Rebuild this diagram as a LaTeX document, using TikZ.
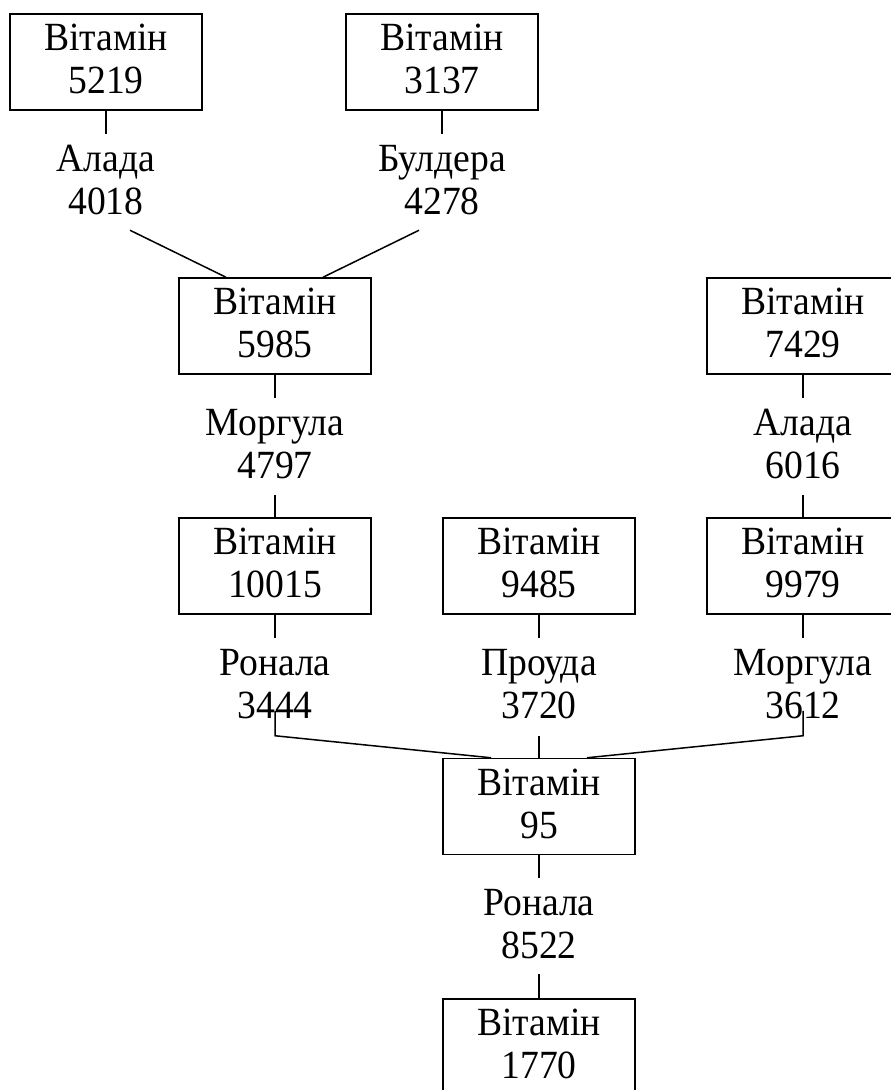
\documentclass[tikz,border=0pt]{standalone}
\usepackage{fontspec}
\setmainfont{Liberation Serif}
\newfontfamily\vfont[FakeStretch=0.94]{Liberation Serif}
\usetikzlibrary{calc}
\begin{document}
\begin{tikzpicture}[x=1pt, y=-1pt, line width=1.5pt,
  vbox/.style={draw, minimum width=192pt, minimum height=96pt, inner sep=0pt,
    text depth=6pt, align=center, font=\vfont\fontsize{40}{43}\selectfont},
  vlab/.style={minimum height=95pt, inner sep=0pt,
    text depth=5pt, align=center, font=\vfont\fontsize{40}{43}\selectfont}]
\useasboundingbox (0,0) rectangle (891,1090);
\clip (0,0) rectangle (891,1090);

% vitamin boxes
\node[vbox] (v5219)  at (106,62)    {Вітамін\\5219};
\node[vbox] (v3137)  at (442,62)    {Вітамін\\3137};
\node[vbox] (v5985)  at (275,326)   {Вітамін\\5985};
\node[vbox] (v7429)  at (803,326)   {Вітамін\\7429};
\node[vbox] (v10015) at (275,566)   {Вітамін\\10015};
\node[vbox] (v9485)  at (539,566)   {Вітамін\\9485};
\node[vbox] (v9979)  at (803,566)   {Вітамін\\9979};
\node[vbox] (v95)    at (539,806.5) {Вітамін\\95};
\node[vbox] (v1770)  at (539,1047)  {Вітамін\\1770};

% reaction labels
\node[vlab] (l4018) at (106,182)   {Алада\\4018};
\node[vlab] (l4278) at (442,182)   {Булдера\\4278};
\node[vlab] (l4797) at (275,446.5) {Моргула\\4797};
\node[vlab] (l6016) at (803,446.5) {Алада\\6016};
\node[vlab] (l3444) at (275,686)   {Ронала\\3444};
\node[vlab] (l3720) at (539,686)   {Проуда\\3720};
\node[vlab] (l3612) at (803,686)   {Моргула\\3612};
\node[vlab] (l8522) at (539,926)   {Ронала\\8522};

% connectors
\draw (v5219.south) -- (l4018.north);
\draw (v3137.south) -- (l4278.north);
\draw ($(l4018.south)+(24,0)$) -- ($(v5985.north)+(-49,0)$);
\draw ($(l4278.south)+(-23,0)$) -- ($(v5985.north)+(48,0)$);
\draw (v5985.south) -- (l4797.north);
\draw (l4797.south) -- (v10015.north);
\draw (v7429.south) -- (l6016.north);
\draw (l6016.south) -- (v9979.north);
\draw (v10015.south) -- (l3444.north);
\draw (v9485.south) -- (l3720.north);
\draw (v9979.south) -- (l3612.north);
\draw ($(l3444.south)+(0,-23.5)$) -- ++(0,25) -- ($(v95.north)+(-48,0)$);
\draw ($(l3720.south)+(0,2)$) -- (v95.north);
\draw ($(l3612.south)+(0,-23.5)$) -- ++(0,25) -- ($(v95.north)+(48,0)$);
\draw (v95.south) -- (l8522.north);
\draw (l8522.south) -- (v1770.north);
\end{tikzpicture}
\end{document}
